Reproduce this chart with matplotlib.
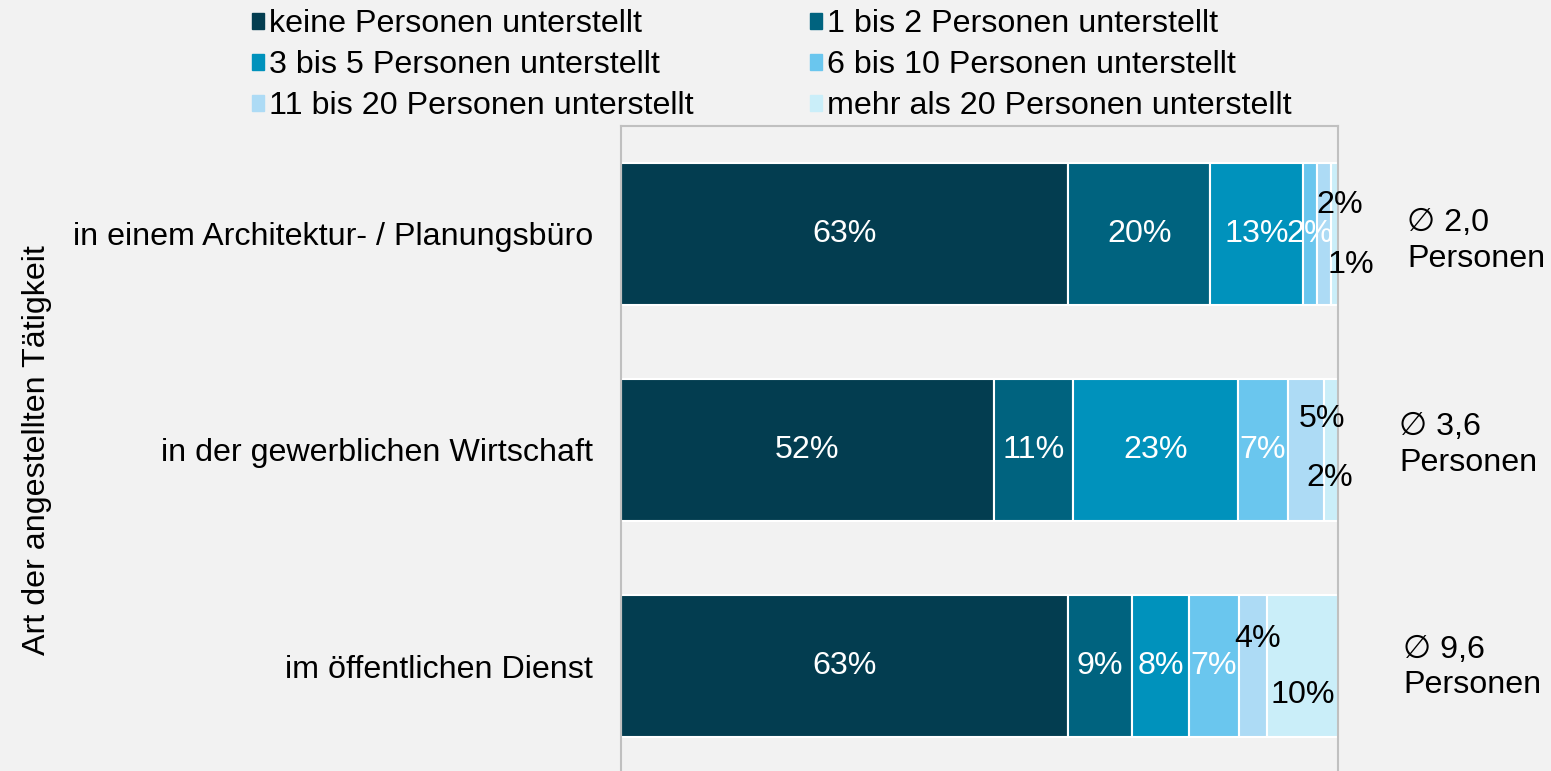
import numpy as np
import matplotlib.pyplot as plt
from matplotlib.patches import Patch

# Anteile je Art der Tätigkeit (Prozent, gerundet)
categories = ["in einem Architektur- / Planungsbüro",
              "in der gewerblichen Wirtschaft",
              "im öffentlichen Dienst"]
series_names = ["keine Personen unterstellt",
                "1 bis 2 Personen unterstellt",
                "3 bis 5 Personen unterstellt",
                "6 bis 10 Personen unterstellt",
                "11 bis 20 Personen unterstellt",
                "mehr als 20 Personen unterstellt"]
keine = [63, 52, 63]
p1_2 = [20, 11, 9]
p3_5 = [13, 23, 8]
p6_10 = [2, 7, 7]
p11_20 = [2, 5, 4]
p20_plus = [1, 2, 10]
averages = ["2,0", "3,6", "9,6"]

colors = ["#033d50", "#00637f", "#0092bc", "#6ac6ee", "#addbf5", "#caeef9"]

plt.rcParams['font.family'] = ['Liberation Sans', 'DejaVu Sans']
fs = 23.2

values = np.array([keine, p1_2, p3_5, p6_10, p11_20, p20_plus], dtype=float)
shares = values / values.sum(axis=0) * 100  # 100%-gestapelt

fig = plt.figure(figsize=(15.51, 7.71), dpi=100, facecolor="#f2f2f2")
ax = fig.add_axes([0.4004, -0.0039, 0.4623, 0.8405])
ax.set_facecolor("#f2f2f2")

y = np.arange(len(categories))
left = np.zeros(len(categories))
for i in range(len(series_names)):
    ax.barh(y, shares[i], left=left, height=0.66, color=colors[i],
            edgecolor="white", linewidth=1.5, label=series_names[i])
    left += shares[i]

# kleine Segmente: Beschriftung schwarz, versetzt (x, y in Pixel)
outside = {(0, 4): (16, -29), (0, 5): (16, 31),
           (1, 4): (16, -31), (1, 5): (-1, 28),
           (2, 4): (5, -27), (2, 5): (0, 29)}

for i in range(len(series_names)):
    for r in range(len(categories)):
        xc = shares[:i, r].sum() + shares[i, r] / 2
        txt = f"{int(values[i, r])}%"
        if (r, i) in outside:
            dx, dy = outside[(r, i)]
            ax.annotate(txt, (xc, y[r]), xytext=(dx * 0.72, -dy * 0.72),
                        textcoords="offset points", ha="center", va="center",
                        fontsize=fs, color="black", annotation_clip=False)
        else:
            ax.text(xc, y[r], txt, ha="center", va="center",
                    fontsize=fs, color="white")

avg_dx = [50, 44, 47]
avg_dy = [-5, 3.5, -1]
for r, avg in enumerate(averages):
    ax.annotate(f"\u2205 {avg}\nPersonen", (100, y[r]),
                xytext=(avg_dx[r], avg_dy[r]),
                textcoords="offset points", ha="left", va="center",
                fontsize=fs, linespacing=1.25, annotation_clip=False)

ax.set_xlim(0, 100)
ax.set_ylim(2.5, -0.5)
ax.set_xticks([])
ax.set_yticks(y)
ax.set_yticklabels(categories, fontsize=fs)
ax.tick_params(axis="y", length=0, pad=20)
ax.set_ylabel("Art der angestellten Tätigkeit", fontsize=fs)
ax.yaxis.set_label_coords(-0.794, 0.5)
for s in ax.spines.values():
    s.set_color("#c0c0c0")
    s.set_linewidth(1.5)

handles = [Patch(color=c) for c in colors]
order = [0, 2, 4, 1, 3, 5]
fig.legend([handles[k] for k in order], [series_names[k] for k in order],
           ncol=2, loc="upper left", bbox_to_anchor=(0.1625, 0.988),
           frameon=False, fontsize=fs, handlelength=0.38, handleheight=0.38,
           handletextpad=0.15, columnspacing=3.6, labelspacing=0.34,
           borderpad=0, borderaxespad=0)

fig.savefig("out.png", dpi=100, facecolor=fig.get_facecolor())
